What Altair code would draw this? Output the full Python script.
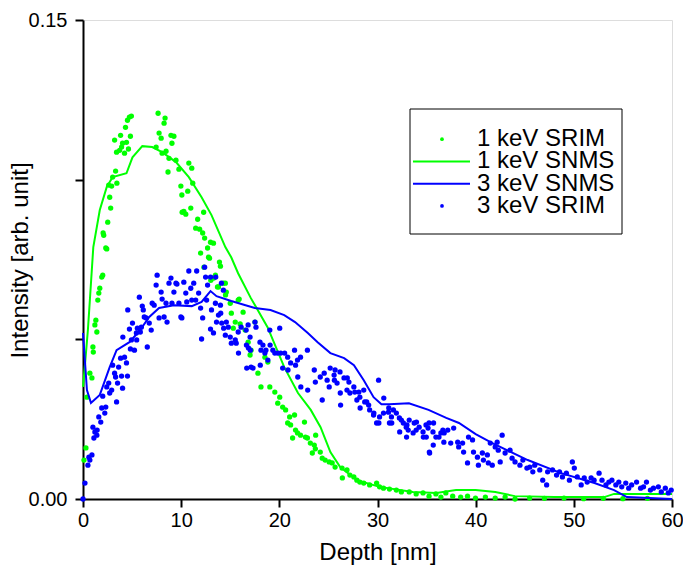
import altair as alt
import pandas as pd

# ---- 1 keV SRIM (points) ----
srim1_x = [0.10, 0.30, 0.40, 0.70, 0.91, 1.01, 1.05, 1.21, 1.31, 1.41, 1.51, 1.61, 1.71, 1.91, 2.01, 2.05, 2.11, 2.32, 2.42, 2.52,
           2.62, 2.72, 2.82, 2.92, 3.02, 3.22, 3.32, 3.42, 3.45, 3.73, 3.83, 3.93, 4.03, 4.23, 4.33, 4.43, 4.53, 4.63, 4.73, 4.83,
           4.93, 7.45, 7.65, 7.75, 7.96, 8.06, 8.26, 8.36, 8.46, 8.66, 8.76, 8.96, 9.06, 9.26, 9.47, 9.77, 9.97, 10.07, 10.10, 10.27,
           10.47, 10.67, 10.78, 10.98, 11.08, 11.18, 11.48, 11.68, 11.88, 11.98, 12.19, 12.29, 12.32, 12.39, 12.69, 12.79, 12.89, 12.99, 13.02, 13.29,
           13.32, 13.39, 13.49, 13.70, 13.80, 13.90, 14.00, 14.30, 14.50, 14.52, 14.60, 15.00, 15.11, 15.31, 15.51, 15.81, 15.91, 16.01, 16.31, 16.52,
           16.82, 17.02, 17.12, 17.52, 17.82, 18.13, 18.53, 18.83, 19.03, 19.54, 19.84, 20.04, 20.34, 20.64, 20.85, 21.05, 21.15, 21.35, 21.55, 21.65,
           21.85, 22.16, 22.56, 22.66, 22.86, 23.16, 23.36, 23.56, 23.67, 23.70, 24.17, 24.37, 24.67, 25.08, 25.38, 25.68, 26.39, 26.42, 26.89, 27.19,
           27.59, 27.90, 28.20, 28.60, 29.20, 29.91, 30.21, 30.61, 31.22, 31.92, 32.43, 33.23, 33.94, 34.64, 35.25, 35.95, 36.46, 36.96, 37.66, 38.47,
           39.17, 39.98, 40.99, 41.99, 43.00, 44.01, 45.50, 47.00, 49.00, 51.00, 53.00, 55.00, 57.50]
srim1_y = [0.0122, 0.0160, 0.0319, 0.0394, 0.0379, 0.0476, 0.0460, 0.0545, 0.0560, 0.0523, 0.0623, 0.0645, 0.0660, 0.0695, 0.0701, 0.0833, 0.0826, 0.0786, 0.0783, 0.0867,
           0.0983, 0.0945, 0.0911, 0.0980, 0.1008, 0.1124, 0.1027, 0.1086, 0.0989, 0.1092, 0.1139, 0.1102, 0.1114, 0.1083, 0.1164, 0.1117, 0.1186, 0.1096, 0.1196, 0.1136,
           0.1199, 0.1102, 0.1208, 0.1146, 0.1130, 0.1083, 0.1177, 0.1193, 0.1089, 0.1024, 0.1067, 0.1139, 0.1114, 0.1136, 0.1061, 0.1033, 0.0980, 0.0952, 0.0898, 0.0901,
           0.0892, 0.0964, 0.1052, 0.0911, 0.1036, 0.0989, 0.0848, 0.0876, 0.0845, 0.0770, 0.0833, 0.0898, 0.0726, 0.0817, 0.0786, 0.0757, 0.0754, 0.0804, 0.0685, 0.0801,
           0.0692, 0.0695, 0.0701, 0.0664, 0.0664, 0.0742, 0.0729, 0.0676, 0.0676, 0.0639, 0.0648, 0.0613, 0.0582, 0.0535, 0.0554, 0.0623, 0.0626, 0.0548, 0.0585, 0.0529,
           0.0491, 0.0451, 0.0466, 0.0554, 0.0394, 0.0351, 0.0444, 0.0429, 0.0351, 0.0335, 0.0300, 0.0319, 0.0288, 0.0279, 0.0238, 0.0257, 0.0232, 0.0191, 0.0263, 0.0216,
           0.0207, 0.0200, 0.0241, 0.0194, 0.0191, 0.0175, 0.0144, 0.0169, 0.0157, 0.0200, 0.0147, 0.0128, 0.0122, 0.0116, 0.0113, 0.0100, 0.0097, 0.0066, 0.0091, 0.0075,
           0.0069, 0.0059, 0.0053, 0.0050, 0.0044, 0.0050, 0.0038, 0.0034, 0.0031, 0.0028, 0.0022, 0.0022, 0.0016, 0.0019, 0.0009, 0.0016, 0.0006, 0.0019, 0.0009, 0.0006,
           0.0009, 0.0003, 0.0006, 0.0003, 0.0006, 0.0000, 0.0003, 0.0002, 0.0003, 0.0001, 0.0002, 0.0001, 0.0002]

# ---- 1 keV SNMS (line) ----
snms1_x = [0.0, 0.2, 0.5, 0.7, 1.05, 1.71, 2.42, 3.02, 4.43, 5.04, 6.04, 7.05, 8.06, 9.47, 10.78, 12.08, 13.09, 14.5, 15.1, 15.8,
           17.1, 18.8, 20.5, 21.9, 23.2, 24.2, 25.2, 26.2, 27.9, 30.2, 33.6, 36.0, 38.0, 40.0, 42.0, 44.0, 48.0, 53.1, 54.1, 60.0]
snms1_y = [0.0351, 0.0420, 0.0530, 0.0623, 0.0789, 0.0905, 0.0977, 0.1008, 0.1020, 0.1070, 0.1105, 0.1102, 0.1086, 0.1055, 0.1008, 0.0945, 0.0889, 0.0789, 0.0757, 0.0707,
           0.0629, 0.0538, 0.0413, 0.0332, 0.0279, 0.0225, 0.0147, 0.0100, 0.0059, 0.0038, 0.0022, 0.0019, 0.0028, 0.0028, 0.0022, 0.0009, 0.0006, 0.0006, 0.0016, 0.0016]

# ---- 3 keV SNMS (line) ----
snms3_x = [0.0, 0.40, 0.81, 1.71, 2.72, 3.42, 4.73, 5.74, 6.75, 7.75, 9.26, 11.08, 12.08, 12.99, 13.6, 15.1, 17.5, 19.1, 20.5, 21.6,
           22.9, 23.9, 25.2, 26.6, 27.6, 28.6, 29.6, 30.4, 31.2, 33.2, 35.2, 37.0, 38.3, 40.0, 41.7, 45.3, 48.7, 52.1, 54.1, 55.4, 60.0]
snms3_y = [0.0520, 0.0341, 0.0301, 0.0326, 0.0413, 0.0466, 0.0491, 0.0526, 0.0570, 0.0598, 0.0607, 0.0604, 0.0617, 0.0651, 0.0635, 0.0620, 0.0598, 0.0592, 0.0576, 0.0554,
           0.0520, 0.0491, 0.0457, 0.0441, 0.0419, 0.0372, 0.0319, 0.0297, 0.0297, 0.0300, 0.0279, 0.0254, 0.0238, 0.0203, 0.0175, 0.0122, 0.0081, 0.0050, 0.0028, 0.0006, 0.0000]

# ---- 3 keV SRIM (points) ----
srim3_x = [0.00, 0.20, 0.50, 0.60, 0.70, 0.91, 1.01, 1.11, 1.21, 1.41, 1.44, 1.61, 1.81, 1.91, 2.01, 2.22, 2.32, 2.42, 2.62, 2.72,
           2.92, 3.02, 3.22, 3.32, 3.42, 3.52, 3.63, 3.83, 3.93, 4.03, 4.06, 4.23, 4.43, 4.53, 4.56, 4.73, 4.83, 4.93, 5.04, 5.24,
           5.44, 5.47, 5.54, 5.74, 5.84, 5.94, 6.04, 6.14, 6.24, 6.44, 6.55, 6.75, 6.95, 7.05, 7.25, 7.45, 7.55, 7.75, 7.96, 8.06,
           8.26, 8.46, 8.56, 8.76, 8.96, 9.06, 9.26, 9.47, 9.57, 9.77, 9.97, 10.07, 10.27, 10.47, 10.57, 10.78, 10.98, 11.08, 11.28, 11.48,
           11.58, 11.78, 11.98, 12.08, 12.19, 12.39, 12.49, 12.59, 12.69, 12.99, 12.99, 13.09, 13.29, 13.49, 13.52, 13.60, 13.80, 14.00, 14.03, 14.10,
           14.13, 14.30, 14.33, 14.50, 14.60, 14.80, 15.00, 15.11, 15.51, 15.61, 15.81, 15.84, 16.11, 16.62, 16.65, 16.68, 16.82, 16.85, 17.02, 17.05,
           17.12, 17.32, 17.52, 17.62, 18.03, 18.06, 18.13, 18.33, 18.53, 18.63, 18.83, 19.03, 19.06, 19.34, 19.54, 19.84, 20.04, 20.14, 20.34, 20.54,
           20.85, 20.88, 21.15, 21.55, 21.65, 21.85, 21.88, 22.16, 22.19, 22.86, 22.89, 23.56, 23.67, 24.17, 24.37, 24.57, 24.87, 25.08, 25.18, 25.58,
           25.61, 25.68, 25.88, 26.18, 26.21, 26.24, 26.59, 26.89, 26.92, 27.09, 27.19, 27.59, 27.69, 27.90, 28.10, 28.20, 28.23, 28.60, 28.70, 28.90,
           29.10, 29.20, 29.60, 29.63, 29.91, 30.11, 30.14, 30.21, 30.61, 30.64, 31.12, 31.15, 31.22, 31.42, 31.45, 31.62, 31.92, 32.23, 32.26, 32.43,
           32.63, 32.93, 32.96, 33.00, 33.13, 33.23, 33.63, 33.74, 33.94, 33.97, 34.24, 34.64, 34.67, 34.94, 34.97, 35.15, 35.25, 35.28, 35.31, 35.65,
           35.68, 35.71, 35.95, 36.26, 36.46, 36.66, 36.76, 36.79, 37.16, 37.46, 37.76, 38.17, 38.27, 38.67, 38.77, 39.17, 39.27, 39.68, 39.78, 40.18,
           40.28, 40.68, 40.79, 41.19, 41.29, 41.49, 41.69, 41.99, 42.19, 42.30, 42.50, 42.70, 43.00, 43.50, 43.71, 44.01, 44.51, 44.81, 45.22, 45.52,
           45.82, 46.02, 46.53, 46.83, 47.23, 47.33, 47.83, 48.24, 48.54, 48.84, 49.24, 49.55, 49.85, 50.05, 50.35, 50.75, 51.06, 51.36, 51.76, 52.06,
           52.57, 52.87, 53.27, 53.57, 53.88, 54.28, 54.58, 54.88, 55.29, 55.59, 55.89, 56.39, 56.80, 57.10, 57.40, 57.80, 58.11, 58.61, 58.91, 59.32,
           59.62, 59.92]
srim3_y = [0.0000, 0.0050, 0.0106, 0.0131, 0.0122, 0.0138, 0.0225, 0.0191, 0.0210, 0.0200, 0.0216, 0.0257, 0.0241, 0.0285, 0.0322, 0.0269, 0.0288, 0.0351, 0.0363, 0.0332,
           0.0341, 0.0419, 0.0394, 0.0382, 0.0304, 0.0363, 0.0413, 0.0441, 0.0385, 0.0347, 0.0507, 0.0444, 0.0426, 0.0385, 0.0592, 0.0532, 0.0470, 0.0498, 0.0551, 0.0466,
           0.0520, 0.0498, 0.0535, 0.0632, 0.0523, 0.0538, 0.0604, 0.0592, 0.0570, 0.0567, 0.0476, 0.0551, 0.0529, 0.0613, 0.0607, 0.0670, 0.0701, 0.0567, 0.0648, 0.0626,
           0.0570, 0.0613, 0.0554, 0.0676, 0.0692, 0.0613, 0.0648, 0.0676, 0.0673, 0.0613, 0.0570, 0.0567, 0.0679, 0.0645, 0.0617, 0.0714, 0.0660, 0.0623, 0.0676, 0.0623,
           0.0714, 0.0645, 0.0598, 0.0501, 0.0567, 0.0726, 0.0695, 0.0623, 0.0670, 0.0695, 0.0532, 0.0592, 0.0520, 0.0613, 0.0695, 0.0554, 0.0576, 0.0607, 0.0582, 0.0676,
           0.0551, 0.0654, 0.0535, 0.0513, 0.0554, 0.0538, 0.0507, 0.0488, 0.0498, 0.0488, 0.0523, 0.0457, 0.0538, 0.0529, 0.0482, 0.0410, 0.0545, 0.0473, 0.0507, 0.0466,
           0.0413, 0.0410, 0.0554, 0.0538, 0.0491, 0.0419, 0.0466, 0.0482, 0.0457, 0.0466, 0.0435, 0.0529, 0.0482, 0.0466, 0.0457, 0.0457, 0.0535, 0.0457, 0.0410, 0.0457,
           0.0444, 0.0404, 0.0426, 0.0466, 0.0419, 0.0435, 0.0382, 0.0444, 0.0351, 0.0466, 0.0341, 0.0404, 0.0366, 0.0382, 0.0310, 0.0394, 0.0372, 0.0351, 0.0410, 0.0388,
           0.0372, 0.0404, 0.0363, 0.0398, 0.0332, 0.0294, 0.0379, 0.0341, 0.0379, 0.0366, 0.0332, 0.0351, 0.0335, 0.0310, 0.0335, 0.0319, 0.0285, 0.0341, 0.0304, 0.0304,
           0.0294, 0.0279, 0.0263, 0.0269, 0.0238, 0.0372, 0.0238, 0.0257, 0.0269, 0.0316, 0.0272, 0.0285, 0.0238, 0.0257, 0.0238, 0.0279, 0.0269, 0.0254, 0.0210, 0.0247,
           0.0238, 0.0225, 0.0194, 0.0232, 0.0216, 0.0247, 0.0207, 0.0238, 0.0216, 0.0241, 0.0225, 0.0210, 0.0194, 0.0232, 0.0194, 0.0222, 0.0238, 0.0147, 0.0144, 0.0210,
           0.0169, 0.0238, 0.0194, 0.0194, 0.0207, 0.0216, 0.0178, 0.0207, 0.0216, 0.0175, 0.0222, 0.0178, 0.0163, 0.0175, 0.0147, 0.0113, 0.0194, 0.0185, 0.0147, 0.0131,
           0.0106, 0.0144, 0.0122, 0.0138, 0.0113, 0.0175, 0.0106, 0.0163, 0.0178, 0.0153, 0.0116, 0.0200, 0.0144, 0.0153, 0.0128, 0.0116, 0.0106, 0.0122, 0.0097, 0.0100,
           0.0085, 0.0106, 0.0091, 0.0059, 0.0044, 0.0085, 0.0091, 0.0075, 0.0085, 0.0069, 0.0081, 0.0059, 0.0116, 0.0097, 0.0069, 0.0044, 0.0066, 0.0053, 0.0066, 0.0059,
           0.0081, 0.0059, 0.0044, 0.0053, 0.0059, 0.0044, 0.0053, 0.0038, 0.0050, 0.0034, 0.0044, 0.0053, 0.0034, 0.0038, 0.0053, 0.0028, 0.0034, 0.0038, 0.0022, 0.0034,
           0.0019, 0.0028]

legend_labels = ["1 keV SRIM", "1 keV SNMS", "3 keV SNMS", "3 keV SRIM"]
legend_kinds = ["dot", "line", "line", "dot"]
legend_colors = ["#00FF00", "#00FF00", "#0000FF", "#0000FF"]

GREEN = "#00FF00"
BLUE = "#0000FF"
FONT = "Liberation Sans"

df_s1 = pd.DataFrame({"x": srim1_x, "y": srim1_y})
df_l1 = pd.DataFrame({"x": snms1_x, "y": snms1_y})
df_l3 = pd.DataFrame({"x": snms3_x, "y": snms3_y})
df_s3 = pd.DataFrame({"x": srim3_x, "y": srim3_y})
df_leg = pd.DataFrame({"label": legend_labels, "kind": legend_kinds, "color": legend_colors})

xscale = alt.Scale(domain=[0, 60], nice=False, zero=False)
yscale = alt.Scale(domain=[0, 0.15], nice=False)

xaxis = alt.Axis(values=[0, 10, 20, 30, 40, 50, 60], title="Depth [nm]", grid=False,
                 labelFontSize=20, titleFontSize=24, labelFont=FONT, titleFont=FONT,
                 titleFontWeight="normal", labelColor="black", titleColor="black",
                 domainColor="black", domainWidth=2, tickColor="black", tickWidth=2, tickSize=8,
                 labelPadding=3, titlePadding=10, labelFlush=False)
yaxis = alt.Axis(values=[0, 0.05, 0.1, 0.15], title="Intensity [arb. unit]", grid=False,
                 labelExpr="(datum.value == 0 || datum.value > 0.14) ? format(datum.value, '.2f') : ''",
                 labelFontSize=20, titleFontSize=24, labelFont=FONT, titleFont=FONT,
                 titleFontWeight="normal", labelColor="black", titleColor="black",
                 domainColor="black", domainWidth=2, tickColor="black", tickWidth=2, tickSize=8,
                 labelPadding=8, labelFlush=False,
                 titleX=-56, titleY=240, titleAngle=-90, titleAlign="center", titleBaseline="alphabetic")

X = alt.X("x:Q", scale=xscale, axis=xaxis)
Y = alt.Y("y:Q", scale=yscale, axis=yaxis)

pts1 = alt.Chart(df_s1).mark_circle(color=GREEN, size=28, opacity=1).encode(x=X, y=Y)
line1 = alt.Chart(df_l1).mark_line(color=GREEN, strokeWidth=2).encode(x=X, y=Y)
line3 = alt.Chart(df_l3).mark_line(color=BLUE, strokeWidth=2).encode(x=X, y=Y)
pts3 = alt.Chart(df_s3).mark_circle(color=BLUE, size=28, opacity=1).encode(x=X, y=Y)

main = alt.layer(pts1, line1, line3, pts3)

# ---- manual legend ----
LY = alt.Y("label:N", scale=alt.Scale(domain=legend_labels, range=[108, 197], padding=0), axis=None)
box = alt.Chart(alt.Data(values=[{}])).mark_rect(fill="white", stroke="black", strokeWidth=1).encode(
    x=alt.value(327), x2=alt.value(539), y=alt.value(89), y2=alt.value(214))
leg_lines = alt.Chart(df_leg).transform_filter("datum.kind == 'line'").mark_rule(strokeWidth=2).encode(
    x=alt.value(330), x2=alt.value(387), y=LY, color=alt.Color("color:N", scale=None))
leg_dots = alt.Chart(df_leg).transform_filter("datum.kind == 'dot'").mark_circle(size=14, opacity=1).encode(
    x=alt.value(359), y=LY, color=alt.Color("color:N", scale=None))
leg_text = alt.Chart(df_leg).mark_text(align="left", baseline="middle", fontSize=24, font=FONT, color="black").encode(
    x=alt.value(394), y=LY, text="label:N")
legend = alt.layer(box, leg_lines, leg_dots, leg_text)

chart = alt.layer(main, legend).resolve_scale(y="independent").properties(
    width=589, height=479,
    autosize=alt.AutoSizeParams(type="none"),
    padding={"left": 75, "top": 12, "right": 11, "bottom": 66},
).configure_view(stroke=None).configure(background="white")

chart.save("out.html", embed_options={"renderer": "svg", "actions": False})
